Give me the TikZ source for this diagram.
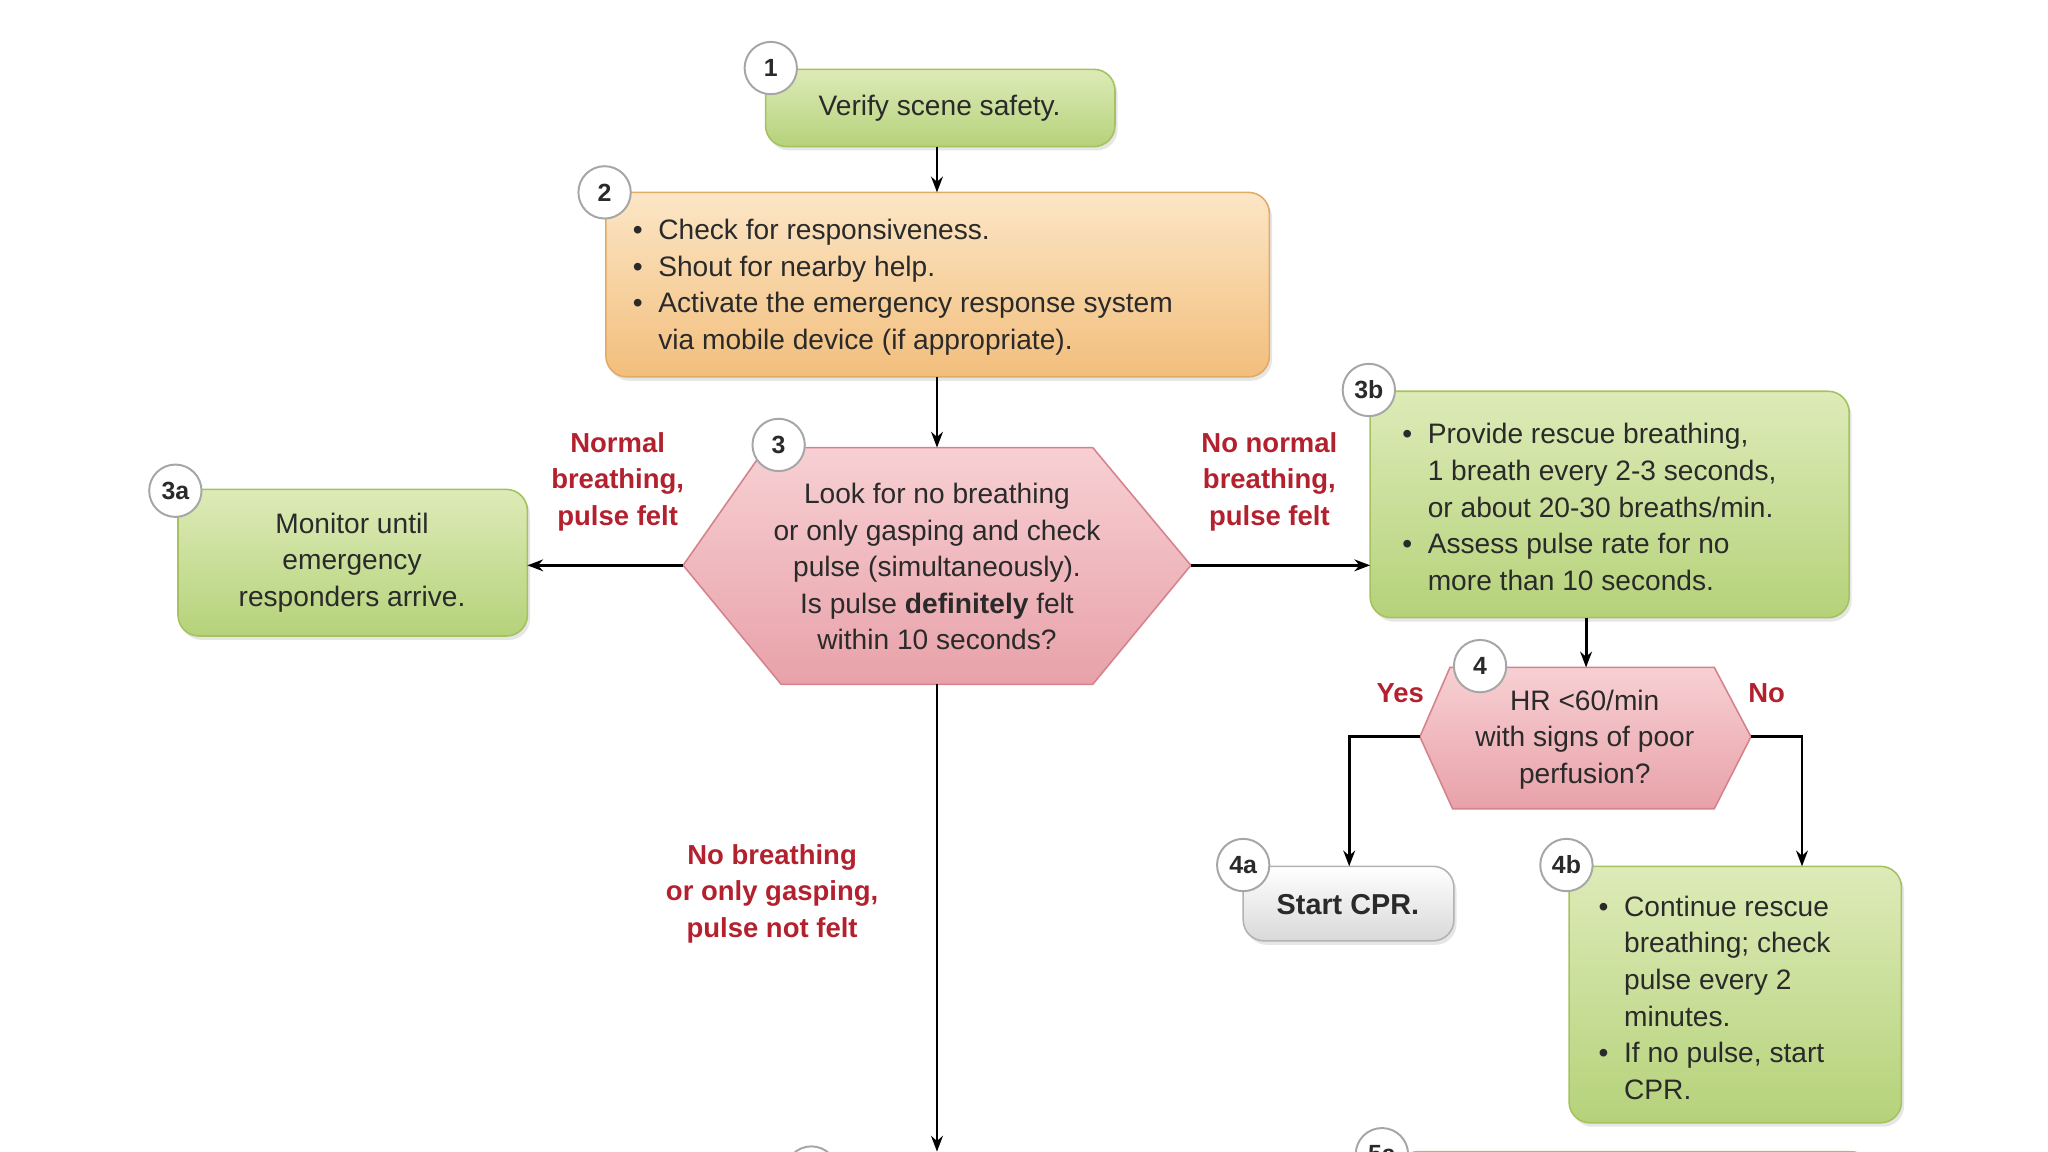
\documentclass[tikz,border=0pt]{standalone}
\usepackage{fontspec}
\setmainfont{Liberation Sans}
\usetikzlibrary{arrows.meta,shadows}
\definecolor{gtop}{HTML}{DDEBB8}
\definecolor{gbot}{HTML}{B5D27A}
\definecolor{gbrd}{HTML}{A5C25F}
\definecolor{otop}{HTML}{FCE6C6}
\definecolor{obot}{HTML}{F2BE7C}
\definecolor{obrd}{HTML}{E3AA62}
\definecolor{ptop}{HTML}{F7D0D3}
\definecolor{pbot}{HTML}{E8A1A9}
\definecolor{pbrd}{HTML}{D4838D}
\definecolor{lbl}{HTML}{B3202E}
\definecolor{txt}{HTML}{2A2A2A}
\tikzset{
  x=1pt,y=-1pt,
  every node/.style={font=\fontsize{21.5}{28}\selectfont,text=txt},
  gbox/.style={rounded corners=16pt,draw=gbrd,line width=1.2pt,top color=gtop,bottom color=gbot,drop shadow={opacity=0.2,shadow xshift=2pt,shadow yshift=-3pt}},
  obox/.style={rounded corners=16pt,draw=obrd,line width=1.2pt,top color=otop,bottom color=obot,drop shadow={opacity=0.2,shadow xshift=2pt,shadow yshift=-3pt}},
  pbox/.style={draw=pbrd,line width=1.2pt,top color=ptop,bottom color=pbot},
  xbox/.style={rounded corners=16pt,draw=gray!60,line width=1.2pt,top color=white,bottom color=gray!30,drop shadow={opacity=0.2,shadow xshift=2pt,shadow yshift=-3pt}},
  num/.style={circle,draw=gray!70,line width=1.5pt,fill=white,minimum size=40pt,inner sep=0pt,font=\fontsize{19}{20}\selectfont\bfseries},
  lab/.style={text=lbl,font=\fontsize{21}{28}\selectfont\bfseries,align=center},
  arr/.style={-{Stealth[length=12pt,width=9pt]},line width=2.2pt,black},
}
\begin{document}
\begin{tikzpicture}
\useasboundingbox (0,0) rectangle (1565,880.3);
% box 1
\draw[gbox] (585,53) rectangle (852,112);
\node (b1) at (718,83) {Verify scene safety.};
\coordinate (b1s) at (716,112);
\node[num] (c1) at (589,52) {1};
% box 2
\draw[obox] (463,147) rectangle (970,288);
\node[anchor=north west,align=left] (b2) at (480,160) {\begin{tabular}{@{}l@{\hspace{12pt}}l@{}}\textbullet & Check for responsiveness.\\ \textbullet & Shout for nearby help.\\ \textbullet & Activate the emergency response system\\ & via mobile device (if appropriate).\end{tabular}};
\coordinate (b2n) at (716,147);
\coordinate (b2s) at (716,288);
\node[num] (c2) at (462,147) {2};
% hexagon 3
\draw[pbox] (585,342) -- (835,342) -- (910,432) -- (835,523) -- (597,523) -- (522,432) -- cycle;
\coordinate (h3n) at (716,342);
\coordinate (h3w) at (522,432);
\coordinate (h3e) at (910,432);
\coordinate (h3s) at (716,523);
\node[align=center] (t3) at (716,433) {Look for no breathing\\or only gasping and check\\pulse (simultaneously).\\Is pulse \textbf{definitely} felt\\within 10 seconds?};
\node[num] (c3) at (595,340) {3};
% box 3a
\draw[gbox] (136,374) rectangle (403,486);
\node[align=center] (t3a) at (269,430) {Monitor until\\emergency\\responders arrive.};
\coordinate (b3ae) at (403,432);
\node[num] (c3a) at (134,375) {3a};
% box 3b
\draw[gbox] (1047,299) rectangle (1413,472);
\node[anchor=north west,align=left] (t3b) at (1068,316) {\begin{tabular}{@{}l@{\hspace{12pt}}l@{}}\textbullet & Provide rescue breathing,\\ & 1 breath every 2-3 seconds,\\ & or about 20-30 breaths/min.\\ \textbullet & Assess pulse rate for no\\ & more than 10 seconds.\end{tabular}};
\coordinate (b3bw) at (1047,432);
\coordinate (b3bs) at (1212,472);
\node[num] (c3b) at (1046,298) {3b};
% hexagon 4
\draw[pbox] (1108,510) -- (1310,510) -- (1338,563) -- (1310,618) -- (1110,618) -- (1085,563) -- cycle;
\coordinate (h4n) at (1212,510);
\coordinate (h4w) at (1085,563);
\coordinate (h4e) at (1338,563);
\node[align=center] (t4) at (1211,565) {HR <60/min\\with signs of poor\\perfusion?};
\node[num] (c4) at (1131,509) {4};
% box 4a
\draw[xbox] (950,662) rectangle (1111,719);
\node[font=\fontsize{22}{28}\selectfont\bfseries] (t4a) at (1030,691) {Start CPR.};
\coordinate (b4an) at (1031,662);
\node[num] (c4a) at (950,661) {4a};
% box 4b
\draw[gbox] (1199,662) rectangle (1453,858);
\node[anchor=north west,align=left] (t4b) at (1218,677) {\begin{tabular}{@{}l@{\hspace{12pt}}l@{}}\textbullet & Continue rescue\\ & breathing; check\\ & pulse every 2\\ & minutes.\\ \textbullet & If no pulse, start\\ & CPR.\end{tabular}};
\coordinate (b4bn) at (1377,662);
\node[num] (c4b) at (1197,661) {4b};
% bottom partial items
\draw[gbox] (1068,880) rectangle (1430,960);
\node[num] (c5a) at (1056,882) {5a};
\node[num] (c5) at (620,896) {};
\coordinate (bot) at (716,880);
% connectors
\draw[arr] (b1s) -- (b2n);
\draw[arr] (b2s) -- (h3n);
\draw[arr] (h3w) -- (b3ae);
\draw[arr] (h3e) -- (b3bw);
\draw[arr] (b3bs) -- (h4n);
\draw[arr] (h4w) -| (b4an);
\draw[arr] (h4e) -| (b4bn);
\draw[arr] (h3s) -- (bot);
% labels
\node[lab] (l1) at (472,368) {Normal\\breathing,\\pulse felt};
\node[lab] (l2) at (970,368) {No normal\\breathing,\\pulse felt};
\node[lab] (l3) at (1070,530) {Yes};
\node[lab] (l4) at (1350,530) {No};
\node[lab] (l5) at (590,683) {No breathing\\or only gasping,\\pulse not felt};
\end{tikzpicture}
\end{document}
